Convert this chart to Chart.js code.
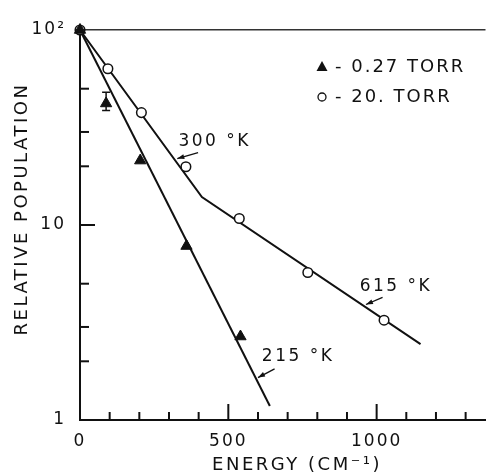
<!DOCTYPE html>
<html><head><meta charset="utf-8">
<script src="https://cdn.jsdelivr.net/npm/chart.js@4"></script>
<style>html,body{margin:0;padding:0;background:#fff;overflow:hidden}</style>
</head><body>
<canvas id="c" width="493" height="475"></canvas>
<script>
// ---- data ----
const lowPressureEnergy = [0, 88, 203, 359, 541];
const lowPressurePopulation = [100, 42, 21.4, 7.8, 2.68];
const errEnergy = [88];
const errLow = [38.7];
const errHigh = [48];
const highPressureEnergy = [0, 94, 207, 357, 537, 768, 1025];
const highPressurePopulation = [100, 63.3, 37.7, 19.9, 10.8, 5.71, 3.25];
const fit215Energy = [0, 640];
const fit215Population = [100, 1.18];
const fitHighEnergy = [0, 411, 1148];
const fitHighPopulation = [100, 13.9, 2.45];
const xTickValues = [0, 100, 200, 300, 400, 500, 600, 700, 800, 900, 1000, 1100, 1200, 1300];
const xMajorTicks = [500, 1000];
const xTickLabels = {0: '0', 500: '500', 1000: '1000'};
const yTickValues = [1, 2, 3, 5, 10, 20, 30, 50, 100];
const yMajorTicks = [10];
const yTickLabels = {1: '1', 10: '10', 100: '10\u00B2'};
const legendLabels = ['- 0.27 TORR', '- 20. TORR'];
const annotationTexts = ['300 \u00B0K', '615 \u00B0K', '215 \u00B0K'];
const xTitle = 'ENERGY (CM\u207B\u00B9)';
const yTitle = 'RELATIVE POPULATION';

// annotation anchors in data coordinates
const annotationPos = [
  {tx: 332, ty: 26.9, ax1: 398, ay1: 23.5, ax2: 328, ay2: 21.9},
  {tx: 943, ty: 4.84, ax1: 1020, ay1: 4.25, ax2: 964, ay2: 3.91},
  {tx: 613, ty: 2.11, ax1: 656, ay1: 1.83, ax2: 600, ay2: 1.65}
];

const INK = '#111';
const FONT = '"DejaVu Sans", sans-serif';

function pts(xs, ys) { return xs.map((x, i) => ({x: x, y: ys[i]})); }

const spacing = {
  id: 'spacing',
  beforeDraw(chart) { chart.ctx.letterSpacing = '2px'; }
};

const overlay = {
  id: 'overlay',
  afterDraw(chart) {
    const ctx = chart.ctx, xs = chart.scales.x, ys = chart.scales.y, a = chart.chartArea;
    ctx.save();
    ctx.strokeStyle = INK; ctx.fillStyle = INK; ctx.lineWidth = 2;
    // inward tick marks
    xTickValues.forEach(v => {
      if (v === 0) return;
      const px = xs.getPixelForValue(v);
      const len = xMajorTicks.includes(v) ? 16 : 8;
      ctx.beginPath(); ctx.moveTo(px, a.bottom); ctx.lineTo(px, a.bottom - len); ctx.stroke();
    });
    yTickValues.forEach(v => {
      if (v === 1 || v === 100) return;
      const py = ys.getPixelForValue(v);
      const len = yMajorTicks.includes(v) ? 15 : 9;
      ctx.beginPath(); ctx.moveTo(a.left, py); ctx.lineTo(a.left + len, py); ctx.stroke();
    });
    // error bar
    ctx.lineWidth = 1.5;
    errEnergy.forEach((e, i) => {
      const px = xs.getPixelForValue(e);
      const p1 = ys.getPixelForValue(errHigh[i]), p2 = ys.getPixelForValue(errLow[i]);
      ctx.beginPath();
      ctx.moveTo(px, p1); ctx.lineTo(px, p2);
      ctx.moveTo(px - 4, p1); ctx.lineTo(px + 4, p1);
      ctx.moveTo(px - 4, p2); ctx.lineTo(px + 4, p2);
      ctx.stroke();
    });
    // annotations with arrows
    ctx.font = '17px ' + FONT;
    ctx.letterSpacing = '2.5px';
    ctx.textAlign = 'left'; ctx.textBaseline = 'middle';
    annotationTexts.forEach((t, i) => {
      const p = annotationPos[i];
      ctx.fillText(t, xs.getPixelForValue(p.tx), ys.getPixelForValue(p.ty));
      const x1 = xs.getPixelForValue(p.ax1), y1 = ys.getPixelForValue(p.ay1);
      const x2 = xs.getPixelForValue(p.ax2), y2 = ys.getPixelForValue(p.ay2);
      ctx.lineWidth = 1.3;
      ctx.beginPath(); ctx.moveTo(x1, y1); ctx.lineTo(x2, y2); ctx.stroke();
      const ang = Math.atan2(y2 - y1, x2 - x1), L = 7, W = 2.5;
      ctx.beginPath();
      ctx.moveTo(x2, y2);
      ctx.lineTo(x2 - L * Math.cos(ang) + W * Math.sin(ang), y2 - L * Math.sin(ang) - W * Math.cos(ang));
      ctx.lineTo(x2 - L * Math.cos(ang) - W * Math.sin(ang), y2 - L * Math.sin(ang) + W * Math.cos(ang));
      ctx.closePath(); ctx.fill();
    });
    // legend
    ctx.font = '18px ' + FONT;
    ctx.letterSpacing = '2px';
    const lx = 322, ly = [67, 97];
    ctx.beginPath();
    ctx.moveTo(lx, ly[0] - 6); ctx.lineTo(lx + 5.5, ly[0] + 4); ctx.lineTo(lx - 5.5, ly[0] + 4);
    ctx.closePath(); ctx.fill();
    ctx.lineWidth = 1.3;
    ctx.beginPath(); ctx.arc(lx, ly[1], 4, 0, Math.PI * 2); ctx.stroke();
    legendLabels.forEach((t, i) => ctx.fillText(t, lx + 13, ly[i]));
    // axis titles
    ctx.font = '18px ' + FONT;
    ctx.letterSpacing = '2.5px';
    ctx.textAlign = 'center'; ctx.textBaseline = 'middle';
    ctx.fillText(xTitle, 297, 465);
    ctx.translate(22, 209); ctx.rotate(-Math.PI / 2);
    ctx.fillText(yTitle, 0, 0);
    ctx.restore();
  }
};

new Chart(document.getElementById('c'), {
  type: 'scatter',
  data: {
    datasets: [
      {label: '0.27 TORR', data: pts(lowPressureEnergy, lowPressurePopulation), order: 0,
       pointStyle: 'triangle', pointRadius: 6.5, backgroundColor: INK, borderColor: INK, borderWidth: 1, clip: false},
      {label: '20. TORR', data: pts(highPressureEnergy, highPressurePopulation), order: 1,
       pointStyle: 'circle', pointRadius: 4.8, backgroundColor: '#fff', borderColor: INK, borderWidth: 1.5, clip: false},
      {label: '215 K', data: pts(fit215Energy, fit215Population), order: 2, showLine: true,
       pointRadius: 0, borderColor: INK, borderWidth: 2, clip: false},
      {label: '300/615 K', data: pts(fitHighEnergy, fitHighPopulation), order: 2, showLine: true,
       pointRadius: 0, borderColor: INK, borderWidth: 2, clip: false}
    ]
  },
  options: {
    responsive: false, animation: false, devicePixelRatio: 1,
    layout: {padding: {top: 30, right: 0, bottom: 0, left: 0}},
    plugins: {legend: {display: false}, tooltip: {enabled: false}},
    scales: {
      x: {
        type: 'linear', min: 0, max: 1367,
        afterBuildTicks: s => { s.ticks = xTickValues.map(v => ({value: v})); },
        afterFit: s => { s.height = 55; },
        ticks: {callback: v => xTickLabels[v] ?? '', autoSkip: false, maxRotation: 0, padding: 3,
                color: INK, font: {family: FONT, size: 17}},
        grid: {display: false},
        border: {display: true, color: INK, width: 2}
      },
      y: {
        type: 'logarithmic', min: 1, max: 100,
        afterBuildTicks: s => { s.ticks = yTickValues.map(v => ({value: v})); },
        afterFit: s => { s.width = 80; },
        ticks: {callback: v => yTickLabels[v] ?? '', autoSkip: false, padding: 14,
                color: INK, font: {family: FONT, size: 17}},
        grid: {display: true, drawTicks: false, lineWidth: 1.5,
               color: c => (c.tick && c.tick.value === 100) ? '#333' : 'rgba(0,0,0,0)'},
        border: {display: true, color: INK, width: 2}
      }
    }
  },
  plugins: [spacing, overlay]
});
</script>
</body></html>
